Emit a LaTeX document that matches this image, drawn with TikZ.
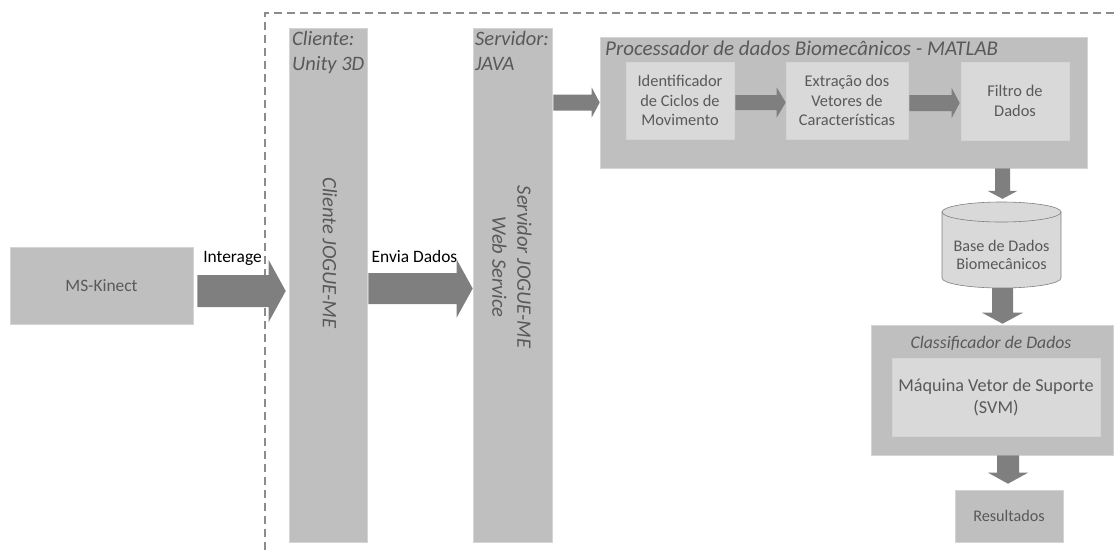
\documentclass[tikz,border=0pt]{standalone}
\usepackage{fontspec}
\setmainfont{Carlito}
\usetikzlibrary{calc}
\definecolor{boxgray}{HTML}{BFBFBF}
\definecolor{innergray}{HTML}{D9D9D9}
\definecolor{edgegray}{HTML}{D4D4D4}
\definecolor{arrowfill}{HTML}{7F7F7F}
\definecolor{textgray}{HTML}{595959}
\definecolor{dashgray}{HTML}{8C8C8C}
\newcommand{\rblock}[5]{\fill[arrowfill] let \p1=(#1), \p2=(#2) in
  (\x1,\y1+#3) -- (\x2-#5,\y1+#3) -- (\x2-#5,\y1+#4) -- (\x2,\y1) -- (\x2-#5,\y1-#4) -- (\x2-#5,\y1-#3) -- (\x1,\y1-#3) -- cycle;}
\newcommand{\dblock}[5]{\fill[arrowfill] let \p1=(#1), \p2=(#2) in
  (\x1-#3,\y1) -- (\x1-#3,\y2+#5) -- (\x1-#4,\y2+#5) -- (\x1,\y2) -- (\x1+#4,\y2+#5) -- (\x1+#3,\y2+#5) -- (\x1+#3,\y1) -- cycle;}

\begin{document}
\begin{tikzpicture}[x=1pt,y=-1pt,
    box/.style={draw=edgegray,fill=boxgray,line width=0.6pt,text=textgray,inner sep=0pt,align=center},
    inbox/.style={box,fill=innergray},
    lbl/.style={inner sep=0pt,font=\fontsize{17.4}{21}\selectfont}]
        \useasboundingbox (0,0) rectangle (1116,550);
        \draw[dashgray,line width=1.1pt,dash pattern=on 8pt off 5pt] (265,550) -- (265,13) -- (1116,13);

        \node [box,minimum width=183pt,minimum height=77pt,font=\fontsize{17.4}{21}\selectfont] (kinect) at (101.5,285.5) {MS-Kinect};
        \node [box,minimum width=78pt,minimum height=514pt] (cliente) at (328,285) {};
        \node [box,minimum width=79pt,minimum height=514pt] (servidor) at (512.5,285) {};
        \node [anchor=north west,inner sep=0pt,align=left,text=textgray,font=\itshape\fontsize{20.5}{25}\selectfont] (clientehdr) at (292,31) {Cliente:\\Unity 3D};
        \node [anchor=north west,inner sep=0pt,align=left,text=textgray,font=\itshape\fontsize{20.5}{25}\selectfont] (servidorhdr) at (475,31) {Servidor:\\JAVA};
        \node [rotate=-90,inner sep=0pt,text=textgray,font=\itshape\fontsize{20.5}{25}\selectfont] (clientetxt) at (330,253) {Cliente JOGUE-ME};
        \node [rotate=-90,inner sep=0pt,align=center,text=textgray,font=\itshape\fontsize{20.5}{25}\selectfont] (servidortxt) at (512,267) {Servidor JOGUE-ME\\Web Service};

        \node [box,minimum width=487pt,minimum height=131pt] (proc) at (843.5,102.5) {};
        \node [anchor=base west,inner sep=0pt,text=textgray,font=\itshape\fontsize{21}{25}\selectfont] (proctitle) at (605,55) {Processador de dados Biomecânicos - MATLAB};
        \node [inbox,minimum width=108pt,minimum height=77pt,font=\fontsize{16.4}{19.5}\selectfont] (ident) at (680,100.5) {Identificador\\de Ciclos de\\Movimento};
        \node [inbox,minimum width=122pt,minimum height=77pt,font=\fontsize{16.4}{19.5}\selectfont] (extr) at (847,100.5) {Extração dos\\Vetores de\\Características};
        \node [inbox,minimum width=108pt,minimum height=78pt,font=\fontsize{16.4}{19.5}\selectfont] (filtro) at (1015,101) {Filtro de\\Dados};

        \filldraw[fill=innergray,draw=arrowfill,line width=0.6pt] (942,212) -- (942,278) arc (180:360:59.5pt and 10pt) -- (1061,212) arc (0:180:59.5pt and 10pt) -- cycle;
        \draw[arrowfill,line width=0.6pt] (942,212) arc (180:360:59.5pt and 10pt);
        \node [minimum width=119pt,minimum height=66pt,inner sep=0pt,align=center,text=textgray,font=\fontsize{16.2}{18.5}\selectfont] (db) at (1001.5,255) {Base de Dados\\Biomecânicos};

        \node [box,minimum width=242pt,minimum height=130pt] (classif) at (992,390) {};
        \node [anchor=base,inner sep=0pt,text=textgray,font=\itshape\fontsize{17.7}{21}\selectfont] (classiftitle) at (991,348) {Classificador de Dados};
        \node [inbox,minimum width=208pt,minimum height=78pt,font=\fontsize{18.2}{22}\selectfont] (svm) at (996,397) {Máquina Vetor de Suporte\\(SVM)};
        \node [box,minimum width=108pt,minimum height=52pt,font=\fontsize{16.2}{19}\selectfont] (res) at (1009,516) {Resultados};

        \node [lbl,anchor=base] (interage) at (232.5,262) {Interage};
        \node [lbl,anchor=base] (envia) at (414.5,262) {Envia Dados};

        \rblock{[xshift=4pt,yshift=-5.5pt]kinect.east}{[xshift=-3pt]cliente.west}{16pt}{31pt}{17pt}
        \rblock{[xshift=1pt,yshift=-3.5pt]cliente.east}{servidor.west}{15.5pt}{29pt}{16pt}
        \rblock{[xshift=1pt]servidor.east |- proc.west}{proc.west}{8pt}{15pt}{8pt}
        \rblock{[xshift=1pt,yshift=-2pt]ident.east}{extr.west}{7.5pt}{15pt}{9pt}
        \rblock{[xshift=1pt,yshift=-2.5pt]extr.east}{[xshift=-1pt]filtro.west}{8pt}{15pt}{8pt}
        \dblock{[xshift=1pt]db.north |- proc.south}{[yshift=23pt]db.north}{7.5pt}{15pt}{8pt}
        \dblock{[xshift=1pt]db.south}{[yshift=1pt]classif.north}{10.5pt}{20.5pt}{11pt}
        \dblock{[xshift=-1pt]res.north |- classif.south}{[yshift=6pt]res.north}{11pt}{20pt}{11pt}
    \end{tikzpicture}
\end{document}
